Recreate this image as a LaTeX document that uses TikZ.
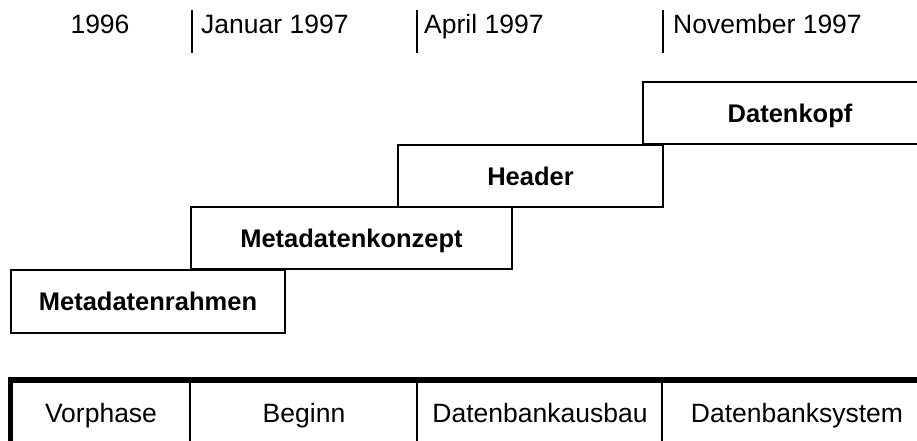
\documentclass[tikz,border=0pt]{standalone}
\usepackage{fontspec}
\setmainfont{Liberation Sans}
\begin{document}
\begin{tikzpicture}[x=1pt,y=-1pt,
  phasebox/.style={draw,line width=2.2pt,inner sep=0pt,
    font=\fontsize{25.5}{30}\selectfont\bfseries,
    text height=18.3pt,text depth=0pt},
  datelabel/.style={font=\fontsize{26.5}{30}\selectfont,inner sep=0pt,anchor=base west},
  datemark/.style={line width=1.5pt},
  celllabel/.style={font=\fontsize{26.5}{30}\selectfont,inner sep=0pt,anchor=base},
  thickrule/.style={line width=5.5pt},
  cellrule/.style={line width=2pt}]
\useasboundingbox (0,0) rectangle (917,441);
\clip (0,0) rectangle (917,441);

% time axis labels
\node[datelabel,anchor=base] (d0) at (100,34) {1996};
\coordinate (m1t) at (192,10); \coordinate (m1b) at (192,53);
\coordinate (m2t) at (417,10); \coordinate (m2b) at (417,53);
\coordinate (m3t) at (663,10); \coordinate (m3b) at (663,53);
\draw[datemark] (m1t) -- (m1b);
\draw[datemark] (m2t) -- (m2b);
\draw[datemark] (m3t) -- (m3b);
\node[datelabel] (d1) at (201,34) {Januar 1997};
\node[datelabel] (d2) at (424,34) {April 1997};
\node[datelabel] (d3) at (673,34) {November 1997};

% staircase of project phases
\node[phasebox,minimum width=274pt,minimum height=63pt] (rahmen) at (148,301.5) {Metadatenrahmen};
\node[phasebox,minimum width=321pt,minimum height=62pt] (konzept) at (351.5,238) {Metadatenkonzept};
\node[phasebox,minimum width=265pt,minimum height=62pt] (header) at (530.5,176) {Header};
\node[phasebox,minimum width=294pt,minimum height=62pt] (kopf) at (790,113) {Datenkopf};

% phase table at the bottom
\node[celllabel] (vor) at (101,422) {Vorphase};
\node[celllabel] (beg) at (304,422) {Beginn};
\node[celllabel] (aus) at (540,422) {Datenbankausbau};
\node[celllabel] (sys) at (797,422) {Datenbanksystem};
\coordinate (tl) at (10.3,380); \coordinate (tr) at (930,380);
\coordinate (bl) at (10.3,450);
\coordinate (s1t) at (190,380); \coordinate (s1b) at (190,450);
\coordinate (s2t) at (417,380); \coordinate (s2b) at (417,450);
\coordinate (s3t) at (662,380); \coordinate (s3b) at (662,450);
\draw[cellrule] (s1t) -- (s1b);
\draw[cellrule] (s2t) -- (s2b);
\draw[cellrule] (s3t) -- (s3b);
\draw[thickrule,line cap=rect] (bl) -- (tl) -- (tr);
\end{tikzpicture}
\end{document}
